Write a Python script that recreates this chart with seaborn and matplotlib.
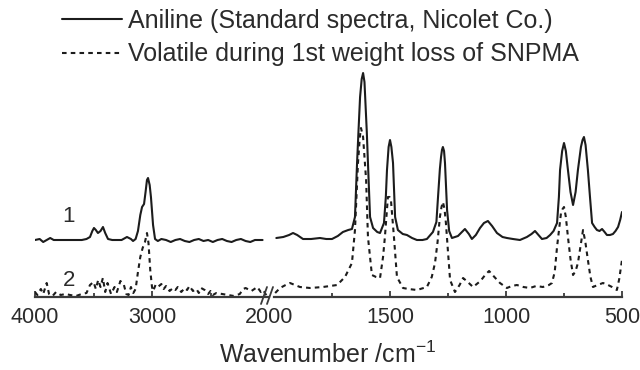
import matplotlib
matplotlib.use("Agg")
import matplotlib.pyplot as plt
from matplotlib.lines import Line2D
from matplotlib.ticker import FixedLocator
import seaborn as sns
import pandas as pd

# ---------------- data ----------------
# Aniline (solid), region 4000-2000 cm-1
aniline_left_wn = [4000, 3960, 3930, 3900, 3870, 3840, 3800, 3750, 3700, 3650, 3600, 3560,
                   3530, 3510, 3496, 3480, 3462, 3440, 3419, 3400, 3376, 3340, 3300, 3260,
                   3214, 3180, 3162, 3140, 3120, 3100, 3085, 3068, 3055, 3043, 3034, 3020,
                   3009, 2991, 2974, 2950, 2920, 2880, 2840, 2800, 2760, 2720, 2680, 2640,
                   2600, 2560, 2520, 2480, 2440, 2400, 2360, 2320, 2280, 2240, 2200, 2160,
                   2120, 2080, 2055]
aniline_left_abs = [57, 58, 55, 57, 59, 57, 57, 57, 57, 57, 57, 58,
                    60, 66, 69, 67, 64, 66, 70, 64, 58, 57, 57, 57,
                    60, 58, 56, 58, 66, 82, 90, 93, 105, 117, 119, 112,
                    100, 72, 58, 56, 58, 57, 55, 57, 58, 56, 55, 57,
                    58, 56, 57, 55, 57, 58, 56, 55, 57, 58, 56, 55,
                    57, 57, 57]

# Aniline (solid), region 2000-500 cm-1
aniline_right_wn = [1990, 1960, 1935, 1918, 1900, 1875, 1840, 1802, 1775, 1750, 1725, 1703,
                    1680, 1664, 1651, 1642, 1635, 1629, 1622, 1616, 1610, 1607, 1600, 1595,
                    1586, 1573, 1555, 1543, 1526, 1518, 1513, 1506, 1500, 1494, 1487, 1478,
                    1466, 1445, 1427, 1405, 1384, 1360, 1341, 1315, 1300, 1293, 1285, 1280,
                    1276, 1272, 1267, 1263, 1254, 1245, 1233, 1207, 1190, 1177, 1160, 1147,
                    1130, 1112, 1095, 1078, 1060, 1039, 1015, 996, 970, 940, 910, 890,
                    875, 860, 845, 825, 810, 795, 780, 772, 767, 758, 750, 742,
                    733, 722, 711, 700, 690, 677, 670, 664, 657, 647, 638, 629,
                    618, 608, 597, 586, 575, 565, 552, 539, 528, 517, 508, 500]
aniline_right_abs = [59, 60, 62, 64, 62, 58, 58, 59, 58, 58, 61, 65,
                     67, 68, 80, 134, 170, 200, 218, 224, 215, 200, 165, 134,
                     80, 69, 65, 64, 74, 100, 127, 150, 157, 150, 134, 80,
                     67, 63, 62, 59, 57, 57, 58, 65, 75, 100, 128, 140,
                     147, 150, 146, 134, 87, 66, 59, 61, 65, 68, 63, 58,
                     62, 69, 74, 76, 71, 64, 60, 59, 58, 57, 60, 63,
                     66, 62, 58, 59, 62, 66, 74, 100, 127, 146, 154, 146,
                     127, 105, 92, 105, 127, 150, 157, 160, 152, 127, 100, 74,
                     70, 67, 66, 68, 65, 62, 62, 63, 66, 70, 77, 85]

# Volatile during 1st weight loss of SNPMA (dashed), region 4000-2000 cm-1
volatile_left_wn = [4000, 3980, 3950, 3930, 3900, 3880, 3850, 3820, 3780, 3740, 3700, 3650,
                    3600, 3560, 3530, 3500, 3480, 3460, 3440, 3420, 3400, 3380, 3350, 3320,
                    3300, 3270, 3240, 3220, 3200, 3180, 3160, 3140, 3120, 3100, 3080, 3060,
                    3043, 3030, 3015, 3000, 2990, 2970, 2950, 2920, 2900, 2880, 2850, 2820,
                    2800, 2780, 2750, 2720, 2700, 2680, 2650, 2620, 2600, 2580, 2550, 2520,
                    2500, 2480, 2450, 2400, 2350, 2300, 2250, 2220, 2200, 2150, 2100, 2070,
                    2050, 2030, 2010]
volatile_left_abs = [5, 2, 8, 3, 14, 3, 1, 5, 2, 3, 2, 1,
                     3, 4, 12, 15, 8, 17, 10, 19, 5, 14, 3, 10,
                     5, 16, 12, 3, 2, 10, 4, 8, 25, 40, 49, 55,
                     64, 54, 27, 10, 6, 12, 10, 13, 8, 11, 6, 9,
                     7, 10, 5, 9, 7, 11, 6, 8, 4, 9, 7, 3,
                     6, 2, 4, 3, 2, 1, 3, 8, 9, 6, 10, 5,
                     7, 3, 0]

# Volatile (dashed), region 2000-500 cm-1
volatile_right_wn = [1995, 1974, 1950, 1931, 1910, 1888, 1845, 1789, 1728, 1694, 1664, 1651,
                     1638, 1630, 1625, 1616, 1610, 1603, 1595, 1578, 1560, 1543, 1530, 1522,
                     1509, 1502, 1496, 1483, 1470, 1444, 1420, 1384, 1341, 1320, 1306, 1295,
                     1285, 1278, 1272, 1265, 1259, 1250, 1241, 1220, 1200, 1185, 1165, 1142,
                     1110, 1090, 1073, 1050, 1026, 996, 975, 953, 925, 897, 870, 841,
                     815, 802, 790, 780, 770, 763, 756, 750, 742, 733, 722, 711,
                     700, 690, 678, 668, 658, 647, 636, 625, 605, 582, 560, 543,
                     530, 522, 512, 500]
volatile_right_abs = [4, 9, 12, 14, 12, 10, 9, 10, 12, 20, 34, 67,
                      134, 160, 169, 160, 140, 117, 60, 22, 20, 19, 40, 60,
                      100, 100, 97, 60, 20, 9, 8, 7, 10, 20, 34, 55,
                      80, 90, 95, 88, 74, 45, 17, 5, 12, 19, 15, 10,
                      16, 22, 26, 20, 14, 9, 11, 12, 10, 9, 11, 10,
                      12, 14, 25, 50, 70, 84, 88, 90, 80, 60, 38, 22,
                      26, 34, 52, 67, 55, 37, 20, 10, 12, 14, 12, 10,
                      8, 7, 18, 37]

legend_labels = ["Aniline (Standard spectra, Nicolet Co.)",
                 "Volatile during 1st weight loss of SNPMA"]
curve_labels = ["1", "2"]
left_major = [4000, 3000, 2000]
left_minor = [3500, 2500]
right_major = [1500, 1000, 500]
right_minor = [1750, 1250, 750]
x_label = "Wavenumber /cm$^{-1}$"

# ---------------- style ----------------
sns.set_style("white")
plt.rcParams["font.family"] = ["Liberation Sans", "DejaVu Sans"]
plt.rcParams["mathtext.fontset"] = "custom"
plt.rcParams["mathtext.rm"] = "Liberation Sans"
plt.rcParams["mathtext.it"] = "Liberation Sans"
TXT = "#2b2b2b"
INK = "#1c1c1c"

W, H = 640, 370
fig = plt.figure(figsize=(W / 100, H / 100), dpi=100)

def px(x0, x1, ytop, ybot):
    return [x0 / W, 1 - ybot / H, (x1 - x0) / W, (ybot - ytop) / H]

axL = fig.add_axes(px(35, 269, 60, 297))
axR = fig.add_axes(px(274, 622, 60, 297))

dash = (0, (2.2, 2.0))
for ax, wa, ya, wv, yv in [(axL, aniline_left_wn, aniline_left_abs, volatile_left_wn, volatile_left_abs),
                           (axR, aniline_right_wn, aniline_right_abs, volatile_right_wn, volatile_right_abs)]:
    da = pd.DataFrame({"wn": wa, "a": ya})
    dv = pd.DataFrame({"wn": wv, "a": yv})
    sns.lineplot(data=da, x="wn", y="a", ax=ax, color=INK, lw=1.5, sort=False, estimator=None)
    sns.lineplot(data=dv, x="wn", y="a", ax=ax, color=INK, lw=1.5, sort=False, estimator=None,
                 linestyle=dash)
    ax.set_ylim(0, 237)
    ax.set_xlabel("")
    ax.set_ylabel("")
    ax.set_yticks([])
    for s in ["top", "left", "right"]:
        ax.spines[s].set_visible(False)
    ax.spines["bottom"].set_linewidth(1.6)
    ax.spines["bottom"].set_color("#3a3a3a")
    ax.patch.set_alpha(0)
    ax.tick_params(axis="x", which="major", direction="in", length=4.5, width=1.3,
                   color="#3a3a3a", labelsize=15.5, labelcolor=TXT, pad=7, bottom=True)
    ax.tick_params(axis="x", which="minor", direction="in", length=3, width=1.3,
                   color="#3a3a3a", bottom=True)

axL.set_xlim(4000, 2000)
axR.set_xlim(2000, 500)
axL.set_xticks(left_major)
axL.xaxis.set_minor_locator(FixedLocator(left_minor))
axR.set_xticks(right_major)
axR.xaxis.set_minor_locator(FixedLocator(right_minor))
axL.set_xticklabels([str(v) for v in left_major])
axR.set_xticklabels([str(v) for v in right_major])
# hide the tick mark at the break
axL.xaxis.get_major_ticks()[-1].tick1line.set_visible(False)

# break marks
for xa, xb in [(261, 267), (267, 273)]:
    fig.add_artist(Line2D([xa / W, xb / W], [1 - 304 / H, 1 - 287 / H],
                          transform=fig.transFigure, color="#3a3a3a", lw=1.3))

# curve labels
fig.text(69 / W, 1 - 217 / H, curve_labels[0], fontsize=16, color=TXT, ha="center", va="center")
fig.text(69 / W, 1 - 281 / H, curve_labels[1], fontsize=16, color=TXT, ha="center", va="center")

# axis label
fig.text(328 / W, 1 - 355 / H, x_label, fontsize=18, color=TXT, ha="center", va="center")

# legend
handles = [Line2D([], [], color=INK, lw=1.5),
           Line2D([], [], color=INK, lw=1.5, linestyle=dash)]
fig.legend(handles, legend_labels, loc="upper left", bbox_to_anchor=(62 / W, 1 - 9 / H),
           frameon=False, fontsize=18, handlelength=2.4, handletextpad=0.25,
           borderpad=0, borderaxespad=0, labelspacing=0.38, labelcolor=TXT)

fig.savefig("out.png", dpi=100)
